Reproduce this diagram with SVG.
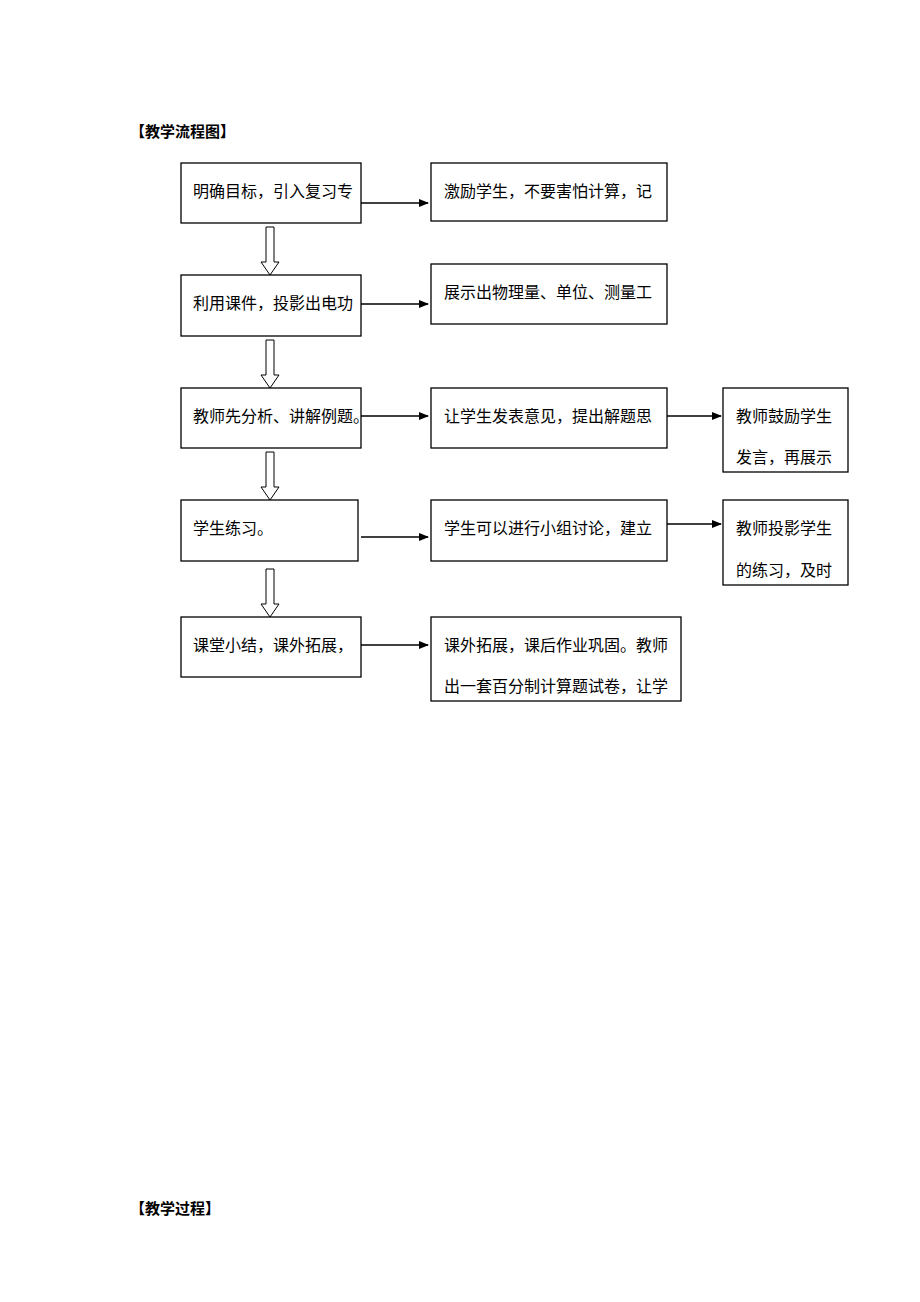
<svg xmlns="http://www.w3.org/2000/svg" width="920" height="1302" viewBox="0 0 920 1302">
<style>
.b{fill:#fff;stroke:#000;stroke-width:1.3}
.t{font-family:"Liberation Serif","Noto Sans CJK SC",serif;font-size:16px;fill:#000}
.h{font-family:"Liberation Serif","Noto Sans CJK SC",serif;font-size:15px;font-weight:bold;fill:#000}
.c{stroke:#000;stroke-width:1.3;fill:none}
.ha{fill:#fff;stroke:#000;stroke-width:1}
</style>
<defs><marker id="ar" markerWidth="10" markerHeight="8" refX="9" refY="4" orient="auto" markerUnits="userSpaceOnUse"><path d="M0,0 L10,4 L0,8 z" fill="#000"/></marker></defs>
<rect width="920" height="1302" fill="#fff"/>
<text class="h" x="130" y="137">【教学流程图】</text>
<text class="h" x="130" y="1214">【教学过程】</text>
<g id="connectors">
<line class="c" x1="361" y1="203" x2="428" y2="203" marker-end="url(#ar)"/>
<line class="c" x1="361" y1="304" x2="428" y2="304" marker-end="url(#ar)"/>
<line class="c" x1="361" y1="416" x2="428" y2="416" marker-end="url(#ar)"/>
<line class="c" x1="667" y1="416" x2="721" y2="416" marker-end="url(#ar)"/>
<line class="c" x1="361" y1="537" x2="428" y2="537" marker-end="url(#ar)"/>
<line class="c" x1="667" y1="524" x2="721" y2="524" marker-end="url(#ar)"/>
<line class="c" x1="361" y1="645" x2="428" y2="645" marker-end="url(#ar)"/>
<path class="ha" d="M266,227 H274 V262 H279 L270,275 L261,262 H266 Z"/>
<path class="ha" d="M266,340 H274 V375 H279 L270,388 L261,375 H266 Z"/>
<path class="ha" d="M266,452 H274 V487 H279 L270,500 L261,487 H266 Z"/>
<path class="ha" d="M266,569 H274 V604 H279 L270,617 L261,604 H266 Z"/>
</g>
<g id="a1"><rect class="b" x="181" y="163" width="180" height="60"/><text class="t" x="193" y="197">明确目标，引入复习专</text></g>
<g id="b1"><rect class="b" x="431" y="163" width="236" height="58"/><text class="t" x="444" y="197">激励学生，不要害怕计算，记</text></g>
<g id="a2"><rect class="b" x="181" y="275" width="180" height="61"/><text class="t" x="193" y="309">利用课件，投影出电功</text></g>
<g id="b2"><rect class="b" x="431" y="264" width="236" height="60"/><text class="t" x="444" y="298">展示出物理量、单位、测量工</text></g>
<g id="a3"><rect class="b" x="181" y="388" width="180" height="60"/><text class="t" x="193" y="422">教师先分析、讲解例题。</text></g>
<g id="b3"><rect class="b" x="431" y="388" width="236" height="60"/><text class="t" x="444" y="422">让学生发表意见，提出解题思</text></g>
<g id="c3"><rect class="b" x="723" y="388" width="125" height="84"/><text class="t" x="736" y="422">教师鼓励学生</text><text class="t" x="736" y="463">发言，再展示</text></g>
<g id="a4"><rect class="b" x="181" y="500" width="177" height="61"/><text class="t" x="193" y="534">学生练习。</text></g>
<g id="b4"><rect class="b" x="431" y="500" width="236" height="61"/><text class="t" x="444" y="534">学生可以进行小组讨论，建立</text></g>
<g id="c4"><rect class="b" x="723" y="500" width="125" height="85"/><text class="t" x="736" y="534">教师投影学生</text><text class="t" x="736" y="576">的练习，及时</text></g>
<g id="a5"><rect class="b" x="181" y="617" width="180" height="60"/><text class="t" x="193" y="651">课堂小结，课外拓展，</text></g>
<g id="b5"><rect class="b" x="431" y="617" width="250" height="84"/><text class="t" x="444" y="651">课外拓展，课后作业巩固。教师</text><text class="t" x="444" y="692">出一套百分制计算题试卷，让学</text></g>
</svg>
